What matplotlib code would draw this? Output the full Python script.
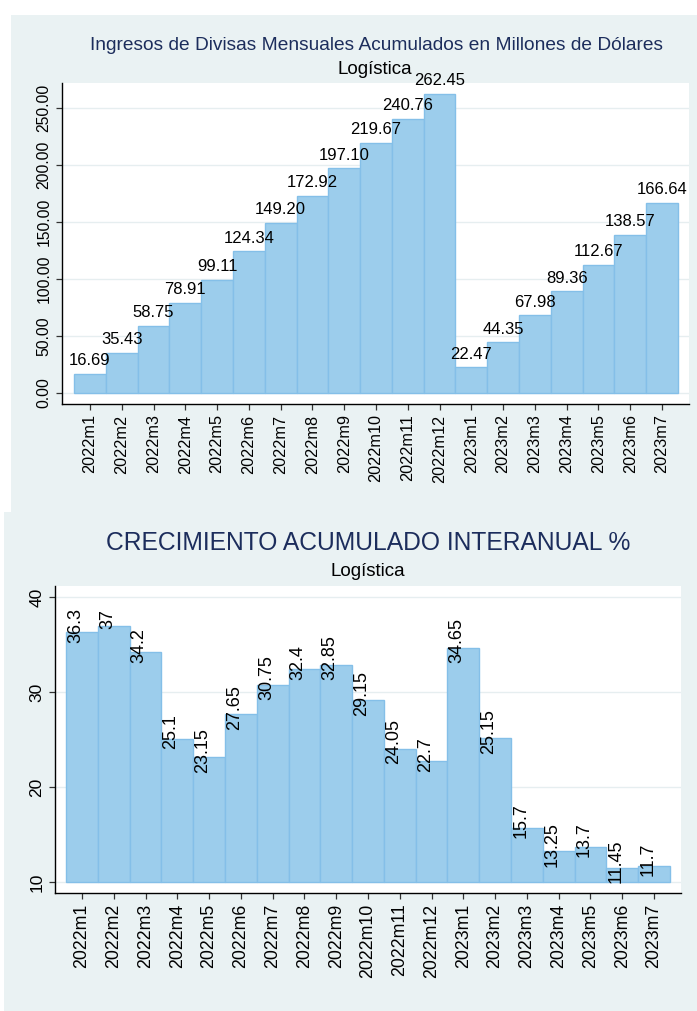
import matplotlib
matplotlib.use("Agg")
import matplotlib.pyplot as plt
from matplotlib.patches import Rectangle

plt.rcParams['font.family'] = ['Liberation Sans', 'DejaVu Sans']

periods = ["2022m1", "2022m2", "2022m3", "2022m4", "2022m5", "2022m6", "2022m7",
           "2022m8", "2022m9", "2022m10", "2022m11", "2022m12", "2023m1", "2023m2",
           "2023m3", "2023m4", "2023m5", "2023m6", "2023m7"]
ingresos = [16.69, 35.43, 58.75, 78.91, 99.11, 124.34, 149.20, 172.92, 197.10,
            219.67, 240.76, 262.45, 22.47, 44.35, 67.98, 89.36, 112.67, 138.57, 166.64]
crecimiento = [36.3, 37, 34.2, 25.1, 23.15, 27.65, 30.75, 32.4, 32.85, 29.15,
               24.05, 22.7, 34.65, 25.15, 15.7, 13.25, 13.7, 11.45, 11.7]
crec_labels = ["36.3", "37", "34.2", "25.1", "23.15", "27.65", "30.75", "32.4", "32.85",
               "29.15", "24.05", "22.7", "34.65", "25.15", "15.7", "13.25", "13.7",
               "11.45", "11.7"]
top_yticks = [0, 50, 100, 150, 200, 250]
bot_yticks = [10, 20, 30, 40]

W, H = 697, 1011
BG = "#EAF2F3"
FILL = "#9CCDEC"
EDGE = "#84BFE8"
NAVY = "#1C2D5C"
GRID = "#E6EEF0"

fig = plt.figure(figsize=(W / 100, H / 100), dpi=100)
fig.patch.set_facecolor("white")

def px_rect(x0, y0, x1, y1):
    return [x0 / W, 1 - y1 / H, (x1 - x0) / W, (y1 - y0) / H]

# panel backgrounds
for (x0, y0, x1, y1) in [(11, 15, 697, 512), (4, 512, 697, 1011)]:
    r = px_rect(x0, y0, x1, y1)
    fig.patches.append(Rectangle((r[0], r[1]), r[2], r[3], transform=fig.transFigure,
                                 facecolor=BG, edgecolor="none", zorder=-10))

x = list(range(len(periods)))

def style_axes(ax, xsize, ysize):
    ax.set_facecolor("white")
    for s in ["top", "right"]:
        ax.spines[s].set_visible(False)
    for s in ["left", "bottom"]:
        ax.spines[s].set_color("black")
        ax.spines[s].set_linewidth(1.0)
    ax.tick_params(axis="both", direction="out", length=4.5, width=0.9, color="#333333",
                   pad=3)
    ax.tick_params(axis="x", labelsize=xsize)
    ax.tick_params(axis="y", labelsize=ysize)
    ax.set_xticks(x)
    ax.set_xticklabels(periods, rotation=90)
    ax.grid(axis="y", color=GRID, linewidth=1.0)
    ax.set_axisbelow(True)

# ---- Top chart ----
ax1 = fig.add_axes(px_rect(62, 83, 689, 404))
style_axes(ax1, 11.7, 11.3)
ax1.bar(x, ingresos, width=1.0, color=FILL, edgecolor=EDGE, linewidth=1.0, zorder=2)
ax1.set_xlim(-0.88, 18.85)
ax1.set_ylim(-9.65, 271.9)
ax1.set_yticks(top_yticks)
ax1.set_yticklabels([f"{v:.2f}" for v in top_yticks], rotation=90, va="center")
for xi, v in zip(x, ingresos):
    ax1.annotate(f"{v:.2f}", (xi, v), xytext=(0, 4), textcoords="offset points",
                 ha="center", va="bottom", fontsize=12, color="black", clip_on=False,
                 zorder=3)

fig.text(376 / W, 1 - 45 / H, "Ingresos de Divisas Mensuales Acumulados en Millones de Dólares",
         ha="center", va="center", fontsize=13.8, color=NAVY)
fig.text(375 / W, 1 - 70 / H, "Logística", ha="center", va="center", fontsize=13.5,
         color="black")

# ---- Bottom chart ----
ax2 = fig.add_axes(px_rect(55, 586, 681, 893))
style_axes(ax2, 12.8, 12.5)
base = bot_yticks[0]
ax2.bar(x, [v - base for v in crecimiento], bottom=base, width=1.0, color=FILL,
        edgecolor=EDGE, linewidth=1.0, zorder=2)
ax2.set_xlim(-0.85, 18.85)
ax2.set_ylim(8.84, 41.16)
ax2.set_yticks(bot_yticks)
ax2.set_yticklabels([str(v) for v in bot_yticks], rotation=90, va="center")
for xi, v, lab in zip(x, crecimiento, crec_labels):
    ax2.annotate(lab, (xi, v), xytext=(-4.5, 5), textcoords="offset points",
                 ha="center", va="center", rotation=90, fontsize=13, color="black",
                 clip_on=False, zorder=3)

fig.text(368 / W, 1 - 543 / H, "CRECIMIENTO ACUMULADO INTERANUAL %",
         ha="center", va="center", fontsize=17.7, color=NAVY)
fig.text(368 / W, 1 - 572 / H, "Logística", ha="center", va="center", fontsize=13.5,
         color="black")

fig.savefig("out.png", dpi=100, facecolor="white")
